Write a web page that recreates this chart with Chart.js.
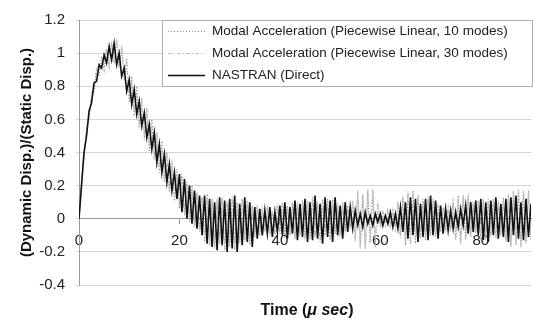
<!DOCTYPE html>
<html>
<head>
<meta charset="utf-8">
<script src="https://cdn.jsdelivr.net/npm/chart.js@4/dist/chart.umd.min.js"></script>
<style>
  html, body { margin: 0; padding: 0; background: #fff; }
  #wrap { width: 533px; height: 321px; }
</style>
</head>
<body>
<div id="wrap"><canvas id="grafica" width="533" height="321"></canvas></div>
<script>
// time samples (micro sec)
const times = [
  0, 0.5, 1, 1.5, 2, 2.5, 3, 3.5, 4, 4.5, 5, 5.5, 6, 6.5, 7, 7.5, 8, 8.5, 9, 9.5,
  10, 10.5, 11, 11.5, 12, 12.5, 13, 13.5, 14, 14.5, 15, 15.5, 16, 16.5, 17, 17.5, 18, 18.5, 19, 19.5,
  20, 20.5, 21, 21.5, 22, 22.5, 23, 23.5, 24, 24.5, 25, 25.5, 26, 26.5, 27, 27.5, 28, 28.5, 29, 29.5,
  30, 30.5, 31, 31.5, 32, 32.5, 33, 33.5, 34, 34.5, 35, 35.5, 36, 36.5, 37, 37.5, 38, 38.5, 39, 39.5,
  40, 40.5, 41, 41.5, 42, 42.5, 43, 43.5, 44, 44.5, 45, 45.5, 46, 46.5, 47, 47.5, 48, 48.5, 49, 49.5,
  50, 50.5, 51, 51.5, 52, 52.5, 53, 53.5, 54, 54.5, 55, 55.5, 56, 56.5, 57, 57.5, 58, 58.5, 59, 59.5,
  60, 60.5, 61, 61.5, 62, 62.5, 63, 63.5, 64, 64.5, 65, 65.5, 66, 66.5, 67, 67.5, 68, 68.5, 69, 69.5,
  70, 70.5, 71, 71.5, 72, 72.5, 73, 73.5, 74, 74.5, 75, 75.5, 76, 76.5, 77, 77.5, 78, 78.5, 79, 79.5,
  80, 80.5, 81, 81.5, 82, 82.5, 83, 83.5, 84, 84.5, 85, 85.5, 86, 86.5, 87, 87.5, 88, 88.5, 89, 89.5,
  90
];

// Modal Acceleration (Piecewise Linear, 10 modes)
const modal10 = [
  0, 0.22, 0.37, 0.54, 0.6, 0.76, 0.77, 0.91, 0.86, 0.98,
  0.9, 1.02, 0.92, 1.07, 0.94, 1.09, 0.91, 1.04, 0.84, 0.97,
  0.7, 0.86, 0.62, 0.8, 0.55, 0.73, 0.48, 0.67, 0.41, 0.6,
  0.36, 0.52, 0.28, 0.47, 0.22, 0.4, 0.16, 0.35, 0.1, 0.3,
  0.06, 0.27, 0.02, 0.22, -0.02, 0.2, -0.05, 0.16, -0.08, 0.13,
  -0.14, 0.15, -0.16, 0.12, -0.18, 0.11, -0.15, 0.13, -0.19, 0.1,
  -0.17, 0.13, -0.19, 0.1, -0.15, 0.12, -0.13, 0.11, -0.16, 0.08,
  -0.11, 0.08, -0.1, 0.06, -0.08, 0.07, -0.1, 0.05, -0.07, 0.09,
  -0.09, 0.1, -0.11, 0.08, -0.1, 0.1, -0.12, 0.1, -0.1, 0.11,
  -0.13, 0.11, -0.12, 0.13, -0.11, 0.1, -0.14, 0.12, -0.1, 0.12,
  -0.13, 0.12, -0.09, 0.09, -0.11, 0.1, -0.07, 0.08, -0.05, 0.1,
  -0.12, 0.17, -0.16, 0.15, -0.18, 0.16, -0.14, 0.18, -0.17, 0.09,
  -0.05, 0.04, -0.03, 0.05, -0.04, 0.06, -0.05, 0.08, -0.09, 0.12,
  -0.16, 0.15, -0.14, 0.17, -0.15, 0.13, -0.12, 0.12, -0.13, 0.13,
  -0.1, 0.12, -0.11, 0.09, -0.08, 0.07, -0.07, 0.06, -0.06, 0.1,
  -0.12, 0.14, -0.15, 0.13, -0.12, 0.15, -0.1, 0.09, -0.09, 0.11,
  -0.12, 0.11, -0.13, 0.12, -0.1, 0.12, -0.11, 0.1, -0.1, 0.13,
  -0.13, 0.14, -0.16, 0.17, -0.15, 0.18, -0.17, 0.16, -0.14, 0.17,
  -0.12
];

// Modal Acceleration (Piecewise Linear, 30 modes)
const modal30 = [
  0, 0.21, 0.39, 0.53, 0.62, 0.74, 0.79, 0.88, 0.88, 0.95,
  0.92, 1.03, 0.94, 1.06, 0.96, 1.08, 0.93, 1.02, 0.87, 0.94,
  0.73, 0.82, 0.65, 0.76, 0.58, 0.7, 0.51, 0.63, 0.44, 0.56,
  0.38, 0.49, 0.31, 0.43, 0.25, 0.37, 0.19, 0.31, 0.13, 0.26,
  0.08, 0.25, 0.04, 0.21, 0.0, 0.18, -0.04, 0.15, -0.07, 0.12,
  -0.13, 0.13, -0.15, 0.11, -0.17, 0.12, -0.14, 0.12, -0.18, 0.11,
  -0.16, 0.12, -0.18, 0.09, -0.15, 0.12, -0.13, 0.1, -0.15, 0.07,
  -0.1, 0.07, -0.09, 0.05, -0.08, 0.06, -0.09, 0.05, -0.07, 0.08,
  -0.09, 0.09, -0.1, 0.08, -0.09, 0.1, -0.12, 0.09, -0.1, 0.1,
  -0.12, 0.11, -0.12, 0.12, -0.11, 0.1, -0.13, 0.11, -0.1, 0.11,
  -0.12, 0.11, -0.09, 0.08, -0.1, 0.09, -0.07, 0.07, -0.05, 0.11,
  -0.14, 0.16, -0.18, 0.14, -0.17, 0.18, -0.15, 0.16, -0.12, 0.08,
  -0.04, 0.05, -0.04, 0.04, -0.05, 0.05, -0.06, 0.1, -0.12, 0.14,
  -0.15, 0.17, -0.16, 0.14, -0.13, 0.15, -0.11, 0.1, -0.12, 0.12,
  -0.11, 0.11, -0.1, 0.08, -0.08, 0.07, -0.06, 0.07, -0.08, 0.12,
  -0.13, 0.12, -0.14, 0.15, -0.13, 0.14, -0.11, 0.1, -0.08, 0.1,
  -0.11, 0.12, -0.12, 0.11, -0.11, 0.11, -0.12, 0.11, -0.1, 0.12,
  -0.14, 0.15, -0.17, 0.16, -0.16, 0.17, -0.16, 0.17, -0.15, 0.16,
  -0.13
];

// NASTRAN (Direct)
const nastran = [
  0, 0.2, 0.4, 0.5, 0.65, 0.7, 0.82, 0.83, 0.93, 0.91,
  0.99, 0.94, 1.04, 0.96, 1.06, 0.93, 1.0, 0.86, 0.91, 0.77,
  0.84, 0.69, 0.78, 0.63, 0.71, 0.56, 0.64, 0.49, 0.57, 0.42,
  0.52, 0.34, 0.45, 0.28, 0.39, 0.22, 0.33, 0.17, 0.28, 0.12,
  0.27, 0.04, 0.24, 0.0, 0.2, -0.03, 0.17, -0.06, 0.14, -0.1,
  0.14, -0.15, 0.12, -0.17, 0.1, -0.19, 0.13, -0.16, 0.11, -0.2,
  0.12, -0.18, 0.14, -0.2, 0.09, -0.16, 0.13, -0.14, 0.1, -0.17,
  0.07, -0.12, 0.06, -0.1, 0.05, -0.09, 0.07, -0.11, 0.04, -0.08,
  0.08, -0.1, 0.1, -0.12, 0.07, -0.09, 0.11, -0.13, 0.09, -0.11,
  0.12, -0.14, 0.1, -0.13, 0.14, -0.12, 0.09, -0.15, 0.13, -0.11,
  0.11, -0.14, 0.13, -0.1, 0.08, -0.12, 0.1, -0.08, 0.07, -0.06,
  0.05, -0.04, 0.03, -0.05, 0.04, -0.03, 0.02, -0.04, 0.03, -0.02,
  0.03, -0.04, 0.02, -0.03, 0.04, -0.05, 0.03, -0.06, 0.07, -0.08,
  0.1, -0.12, 0.13, -0.1, 0.12, -0.14, 0.09, -0.11, 0.12, -0.13,
  0.14, -0.1, 0.11, -0.12, 0.08, -0.09, 0.06, -0.07, 0.05, -0.06,
  0.04, -0.05, 0.06, -0.04, 0.08, -0.09, 0.1, -0.08, 0.11, -0.1,
  0.12, -0.13, 0.1, -0.14, 0.11, -0.1, 0.13, -0.12, 0.09, -0.11,
  0.12, -0.14, 0.13, -0.1, 0.14, -0.12, 0.1, -0.13, 0.12, -0.11,
  0.09
];

const xTicks = [0, 20, 40, 60, 80];
const yTicks = [-0.4, -0.2, 0, 0.2, 0.4, 0.6, 0.8, 1, 1.2];
const seriesNames = [
  'Modal Acceleration (Piecewise Linear, 10 modes)',
  'Modal Acceleration (Piecewise Linear, 30 modes)',
  'NASTRAN (Direct)'
];

const FONT = "'Liberation Sans', Arial, Helvetica, sans-serif";

function puntos(valores) {
  return valores.map((v, i) => ({ x: times[i], y: v }));
}

// legend box and x title drawn on top
const extras = {
  id: 'extras',
  afterDraw(chart) {
    const ctx = chart.ctx;
    const a = chart.chartArea;
    ctx.save();
    // legend
    const bx = a.left + 83, by = a.top, bw = 370, bh = 66;
    ctx.fillStyle = '#fff';
    ctx.fillRect(bx, by, bw, bh);
    ctx.strokeStyle = '#b0b0b0';
    ctx.lineWidth = 1;
    ctx.strokeRect(bx + 0.5, by + 0.5, bw, bh);
    ctx.font = '13.5px ' + FONT;
    ctx.textBaseline = 'middle';
    chart.data.datasets.forEach((ds, i) => {
      const y = by + 11.5 + i * 22;
      ctx.strokeStyle = ds.borderColor;
      ctx.lineWidth = Math.min(ds.borderWidth, 1.3);
      ctx.setLineDash(ds.borderDash || []);
      ctx.beginPath();
      ctx.moveTo(bx + 6, y);
      ctx.lineTo(bx + 43, y);
      ctx.stroke();
      ctx.setLineDash([]);
      ctx.fillStyle = '#222';
      ctx.fillText(ds.label, bx + 50, y);
    });
    // x axis title with italic part
    const partes = [
      ['bold 16px ' + FONT, 'Time ('],
      ['italic bold 16px ' + FONT, '\u03bc sec'],
      ['bold 16px ' + FONT, ')']
    ];
    let total = 0;
    partes.forEach(p => { ctx.font = p[0]; total += ctx.measureText(p[1]).width; });
    let x = (a.left + a.right) / 2 - total / 2 + 2;
    ctx.fillStyle = '#111';
    partes.forEach(p => {
      ctx.font = p[0];
      ctx.fillText(p[1], x, 311);
      x += ctx.measureText(p[1]).width;
    });
    ctx.restore();
  }
};

const ctx = document.getElementById('grafica').getContext('2d');

const myChart = new Chart(ctx, {
  type: 'line',
  data: {
    datasets: [
      {
        label: seriesNames[0],
        data: puntos(modal10),
        borderColor: '#8a8a8a',
        borderWidth: 1.2,
        borderDash: [1, 2],
        pointRadius: 0,
        order: 2
      },
      {
        label: seriesNames[1],
        data: puntos(modal30),
        borderColor: '#bdbdbd',
        borderWidth: 1.2,
        borderDash: [4, 2, 1, 2],
        pointRadius: 0,
        order: 1
      },
      {
        label: seriesNames[2],
        data: puntos(nastran),
        borderColor: '#111',
        borderWidth: 1.6,
        pointRadius: 0,
        order: 0
      }
    ]
  },
  options: {
    responsive: false,
    animation: false,
    devicePixelRatio: 1,
    layout: { padding: { left: 0, right: 2, top: 14, bottom: 36 } },
    plugins: {
      legend: { display: false },
      tooltip: { enabled: false }
    },
    scales: {
      x: {
        type: 'linear',
        position: { y: 0 },
        min: 0,
        max: 90,
        afterBuildTicks: s => { s.ticks = xTicks.map(v => ({ value: v })); },
        grid: { drawOnChartArea: false, tickLength: 5, color: '#999' },
        border: { color: '#999' },
        ticks: { padding: 8, maxRotation: 0, color: '#222', font: { family: FONT, size: 15 } }
      },
      y: {
        min: -0.4,
        max: 1.2,
        afterBuildTicks: s => { s.ticks = yTicks.map(v => ({ value: v })); },
        afterFit: s => { s.width = 79; },
        grid: { color: '#d4d4d4', tickLength: 3 },
        border: { color: '#999' },
        ticks: {
          padding: 11,
          color: '#222',
          font: { family: FONT, size: 15 },
          callback: v => String(Number(v.toFixed(1)))
        },
        title: {
          display: true,
          text: '(Dynamic Disp.)/(Static Disp.)',
          color: '#111',
          padding: { top: 18 },
          font: { family: FONT, size: 15, weight: 'bold' }
        }
      }
    }
  },
  plugins: [extras]
});
</script>
</body>
</html>
